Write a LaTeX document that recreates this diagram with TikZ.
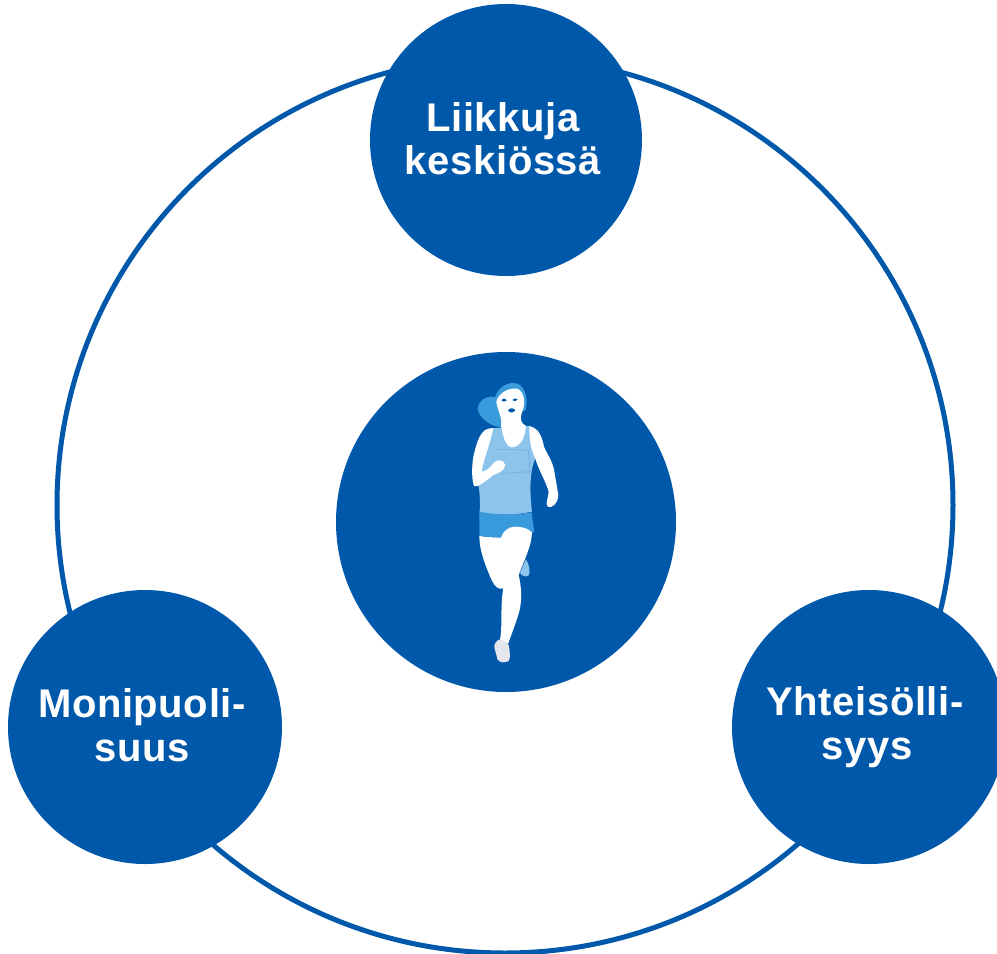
\documentclass[tikz,border=0pt]{standalone}
\usepackage{fontspec}
\setmainfont{Liberation Sans}[LetterSpace=1.5]
\definecolor{mainblue}{HTML}{0058AB}
\definecolor{topblue}{HTML}{8CC4EC}
\definecolor{midblue}{HTML}{3A9BDC}
\definecolor{shoegrey}{HTML}{E4E8EE}
\definecolor{bibline}{HTML}{6FAEDF}
\tikzset{
  disc/.style={circle,fill=mainblue,draw=none,inner sep=0pt,text=white,align=center,
    font=\fontsize{40}{43.5}\selectfont\bfseries},
  ring/.style={draw=mainblue,line width=5pt},
  zone/.style={x=0.3333pt,y=-0.3333pt}
}
\begin{document}
\begin{tikzpicture}[x=1pt,y=-1pt]
\path[use as bounding box] (0,0) rectangle (997,954);
\node[circle,ring,minimum size=896pt,inner sep=0pt] (outer) at (505,505) {};
\node[disc,minimum size=272pt] (top) at (506,140) {\raisebox{3pt}{\makebox[0pt]{\hspace{-6pt}Liikkuja}}\\\raisebox{3pt}{\makebox[0pt]{\hspace{-6pt}keskiössä}}};
\node[disc,minimum size=274pt] (left) at (145,727) {\raisebox{5pt}{\makebox[0pt]{\hspace{-6pt}Monipuoli-}}\\\raisebox{4pt}{\makebox[0pt]{\hspace{-6pt}suus}}};
\node[disc,minimum size=274pt] (right) at (869,727) {\raisebox{4pt}{\makebox[0pt]{\hspace{-8pt}Yhteisölli-}}\\\raisebox{4pt}{\makebox[0pt]{\hspace{-4pt}syys}}};
\node[disc,minimum size=340pt] (centre) at (506,522) {};
\begin{scope}[shift={(430,360)},zone]
  % ponytail
  \fill[midblue] (143,148) .. controls (143,118) and (180,100) .. (205,116) -- (225,190) -- (216,202)
    .. controls (185,200) and (150,178) .. cycle;
  % hair
  \fill[midblue] (195,112) .. controls (205,78) and (240,62) .. (265,72)
    .. controls (285,82) and (295,115) .. (287,150) -- (240,170) -- (200,150) -- cycle;
  % tank top
  \fill[topblue] (180,205) -- (300,198) .. controls (298,250) and (305,275) .. (316,295)
    .. controls (300,330) and (298,390) .. (306,455) .. controls (255,466) and (200,466) .. (149,460)
    .. controls (150,420) and (150,400) .. (145,375) -- (150,330) -- cycle;
  % bib outline
  \draw[bibline,line width=0.6pt] (200,268) -- (295,270) -- (300,335) -- (218,340);
  % neck, chest
  \fill[white] (199,125) .. controls (205,100) and (235,82) .. (262,86)
    .. controls (284,95) and (288,130) .. (275,160) .. controls (270,175) and (272,190) .. (288,198)
    .. controls (285,235) and (270,262) .. (245,262) .. controls (225,258) and (218,225) .. (213,195)
    .. controls (218,175) and (202,150) .. cycle;
  % viewer's left arm
  \fill[white] (190,205) .. controls (150,200) and (140,250) .. (130,290)
    .. controls (125,320) and (125,360) .. (132,378) .. controls (140,385) and (165,365) .. (190,345)
    .. controls (205,340) and (225,330) .. (226,315) .. controls (222,298) and (200,296) .. (190,310)
    .. controls (180,325) and (165,335) .. (155,335) .. controls (160,300) and (178,260) .. cycle;
  % viewer's right arm
  \fill[white] (298,198) .. controls (325,205) and (335,225) .. (342,260)
    .. controls (352,285) and (370,305) .. (374,340) -- (385,405)
    .. controls (384,430) and (365,447) .. (353,440) .. controls (345,430) and (356,410) .. (356,395)
    .. controls (348,365) and (328,335) .. (316,296) .. controls (305,275) and (298,250) .. cycle;
  % face
  \fill[mainblue] (214,121) .. controls (220,114) and (226,114) .. (231,121) .. controls (225,126) and (218,126) .. cycle;
  \fill[mainblue] (247,120) .. controls (252,114) and (258,114) .. (263,118) .. controls (258,125) and (252,126) .. cycle;
  \fill[mainblue] (234,151) .. controls (240,143) and (250,143) .. (256,150) .. controls (250,160) and (240,160) .. cycle;
\end{scope}
\begin{scope}[shift={(440,500)},zone]
  % rear foot
  \fill[topblue] (258,178) .. controls (268,195) and (272,215) .. (266,226)
    .. controls (258,233) and (245,228) .. (240,218) -- cycle;
  % shorts
  \fill[midblue] (118,35) .. controls (170,45) and (225,45) .. (275,37) -- (283,97) -- (200,100) -- (183,113) -- (118,108) -- cycle;
  % legs
  \fill[white] (118,108) .. controls (140,112) and (165,112) .. (183,113)
    .. controls (188,95) and (205,80) .. (225,80) .. controls (245,80) and (265,85) .. (276,97)
    .. controls (275,140) and (250,185) .. (236,225) .. controls (245,260) and (245,300) .. (240,325)
    .. controls (232,360) and (215,400) .. (205,430) -- (180,420)
    .. controls (188,380) and (180,320) .. (190,265) .. controls (178,270) and (165,262) .. (155,240)
    .. controls (135,195) and (118,150) .. cycle;
  % shoe
  \fill[shoegrey] (163,437) .. controls (166,425) and (175,418) .. (182,418)
    .. controls (195,425) and (205,428) .. (206,435) .. controls (210,455) and (212,475) .. (206,483)
    .. controls (195,490) and (178,488) .. (172,478) .. controls (170,462) and (163,450) .. cycle;
\end{scope}
\end{tikzpicture}
\end{document}
